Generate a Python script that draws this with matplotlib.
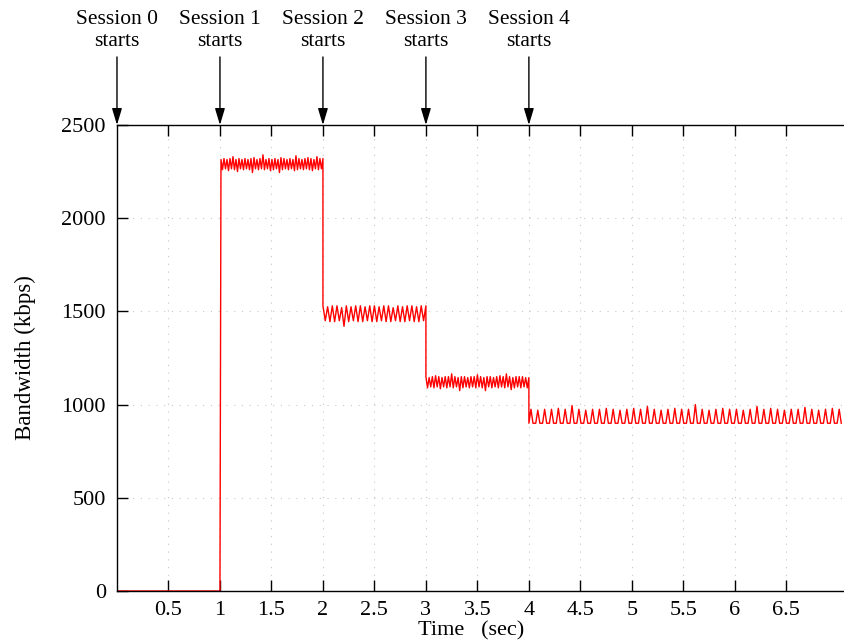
import numpy as np
import matplotlib
matplotlib.use("Agg")
import matplotlib.pyplot as plt

plt.rcParams['font.family'] = ['Liberation Serif', 'DejaVu Serif']

# session start times and labels
session_times = [0, 1, 2, 3, 4]
session_labels = ["Session 0\nstarts", "Session 1\nstarts", "Session 2\nstarts",
                  "Session 3\nstarts", "Session 4\nstarts"]

# segment boundaries (sec)
seg_bounds = [(1.01, 2.0), (2.0, 3.0), (3.0, 4.0), (4.0, 7.06)]

# peak / trough values (kbps)
seg1_hi = [2315, 2320, 2315, 2320, 2330, 2315, 2320, 2315, 2320, 2315, 2320, 2325, 2315, 2320, 2340,
           2315, 2320, 2315, 2320, 2315, 2325, 2320, 2315, 2320, 2315, 2335, 2320, 2315, 2320, 2325,
           2320, 2315, 2330, 2320]
seg1_lo = [2260, 2265, 2255, 2265, 2260, 2250, 2265, 2260, 2265, 2260, 2245, 2265, 2260, 2265, 2260,
           2265, 2255, 2260, 2265, 2245, 2260, 2265, 2260, 2265, 2255, 2260, 2265, 2260, 2265, 2260,
           2255, 2265, 2260, 2265]

seg2_hi = [1530, 1525, 1530, 1530, 1520, 1530, 1525, 1530, 1530, 1525, 1530,
           1530, 1525, 1530, 1530, 1520, 1530, 1525, 1530, 1530, 1525, 1530]
seg2_lo = [1450, 1445, 1445, 1450, 1420, 1445, 1450, 1445, 1445, 1450, 1445,
           1445, 1450, 1445, 1445, 1450, 1445, 1445, 1450, 1445, 1445, 1450]

seg3_hi = [1150, 1145, 1150, 1155, 1150, 1145, 1150, 1150, 1165, 1150, 1145, 1150, 1150, 1145, 1150,
           1150, 1160, 1150, 1145, 1150, 1150, 1145, 1150, 1155, 1150, 1165, 1150, 1145, 1150, 1150,
           1150, 1145]
seg3_lo = [1090, 1095, 1090, 1095, 1085, 1095, 1090, 1095, 1090, 1095, 1075, 1090, 1095, 1090, 1095,
           1090, 1095, 1090, 1075, 1095, 1090, 1095, 1090, 1095, 1090, 1095, 1080, 1090, 1095, 1090,
           1095, 1090]

seg4_hi = [975, 970, 975, 975, 980, 975, 995, 975, 970, 975, 975, 980, 975, 970, 975, 980,
           975, 990, 975, 970, 975, 980, 975, 975, 1000, 975, 970, 975, 980, 975, 975, 970,
           975, 990, 975, 980, 975, 970, 975, 975, 985, 975, 970, 975, 980, 975]
seg4_lo = [900] * 46


def teeth(t0, t1, hi, lo):
    n = len(hi)
    period = (t1 - t0) / n
    ts, vs = [], []
    for i in range(n):
        ts += [t0 + i * period, t0 + (i + 0.5) * period]
        vs += [hi[i], lo[i]]
    ts.append(t1)
    vs.append(hi[-1])
    return ts, vs


def spikes(t0, t1, hi, lo):
    n = len(hi)
    period = (t1 - t0) / n
    ts, vs = [], []
    for i in range(n):
        ts += [t0 + i * period, t0 + (i + 0.3) * period, t0 + (i + 0.6) * period]
        vs += [lo[i], hi[i], lo[i]]
    return ts, vs


t = [0.0, 1.0]
v = [0, 0]
for (a, b), hi, lo in zip(seg_bounds[:3], [seg1_hi, seg2_hi, seg3_hi], [seg1_lo, seg2_lo, seg3_lo]):
    tt, vv = teeth(a, b, hi, lo)
    t += tt
    v += vv
tt, vv = spikes(seg_bounds[3][0], seg_bounds[3][1], seg4_hi, seg4_lo)
t += tt
v += vv

fig = plt.figure(figsize=(8.44, 6.41), dpi=100)
ax = fig.add_axes([0.1386, 0.078, 0.8614, 0.727])

ax.plot(t, v, color="red", linewidth=1.0)

ax.set_xlim(0, 7.06)
ax.set_ylim(0, 2500)
ax.set_xticks([0.5, 1, 1.5, 2, 2.5, 3, 3.5, 4, 4.5, 5, 5.5, 6, 6.5])
ax.set_xticklabels(["0.5", "1", "1.5", "2", "2.5", "3", "3.5", "4", "4.5", "5", "5.5", "6", "6.5"])
ax.set_yticks([0, 500, 1000, 1500, 2000, 2500])
ax.tick_params(direction="in", top=True, right=False, labelsize=16, length=8, width=1)
ax.tick_params(axis="x", pad=7)
ax.tick_params(axis="y", pad=8)
ax.grid(True, color="#c8c8c8", linestyle=(0, (1, 6)), linewidth=0.8)
ax.spines["right"].set_visible(False)
for s in ["left", "top", "bottom"]:
    ax.spines[s].set_linewidth(1)

ax.set_ylabel("Bandwidth (kbps)", fontsize=16.5, labelpad=18)
ax.set_xlabel("Time   (sec)", fontsize=16)
ax.xaxis.set_label_coords(0.487, -0.064)

for x, lab in zip(session_times, session_labels):
    ax.annotate("", xy=(x, 2500), xytext=(x, 2865),
                arrowprops=dict(arrowstyle="-|>,head_length=1.0,head_width=0.3",
                                color="black", lw=1, shrinkA=0, shrinkB=0),
                annotation_clip=False)
    ax.text(x, 3005, lab, ha="center", va="center", fontsize=15.5,
            linespacing=1.2, clip_on=False)

fig.savefig("out.png", dpi=100)
